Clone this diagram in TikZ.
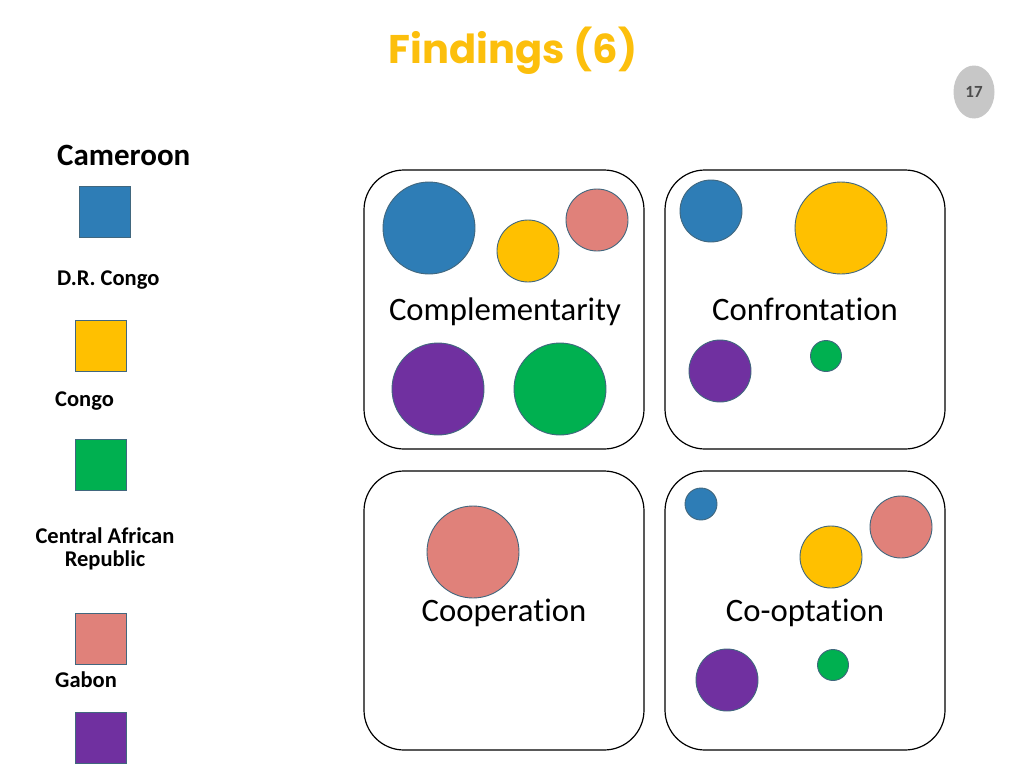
\documentclass[tikz,border=0pt]{standalone}
\usepackage{fontspec}
\usetikzlibrary{shapes.geometric}
\setmainfont{Carlito}[Ligatures={NoCommon,NoContextual},RawFeature={-calt}]
\newfontfamily\titlefont{Poppins}
\definecolor{cblue}{HTML}{2E7DB6}
\definecolor{cyellow}{HTML}{FFC000}
\definecolor{cgreen}{HTML}{00B050}
\definecolor{cpink}{HTML}{E0817A}
\definecolor{cpurple}{HTML}{7030A0}
\definecolor{edgec}{HTML}{41677E}
\definecolor{titlec}{HTML}{FCBF0C}
\begin{document}
\begin{tikzpicture}[x=1pt,y=-1pt,
  panel/.style={draw=black,line width=1.2pt,rounded corners=40pt},
  dot/.style={circle,draw=edgec,line width=0.9pt,inner sep=0pt,minimum size=#1},
  sq/.style={draw=edgec,line width=0.9pt,minimum size=51pt,inner sep=0pt},
  lab/.style={font=\fontsize{32.7}{36}\selectfont},
  leg/.style={font=\bfseries\fontsize{22.5}{26}\selectfont,anchor=west,inner sep=0pt}]
\useasboundingbox (0,0) rectangle (1024,768);
% title and page number
\node[font=\titlefont\bfseries\fontsize{40}{44}\selectfont,text=titlec] (title) at (513,51) {Findings (6)};
\node[ellipse,fill=black!22,minimum width=41pt,minimum height=53pt,inner sep=0pt,font=\bfseries\fontsize{17}{19}\selectfont,text=black!70] (page) at (974,92) {17};
% legend
\node[leg,font=\bfseries\fontsize{31}{34}\selectfont] (lcam) at (57,155) {Cameroon};
\node[sq,fill=cblue] (sqcam) at (104.5,211.5) {};
\node[leg] (ldrc) at (57,280) {D.R. Congo};
\node[sq,fill=cyellow] (sqdrc) at (100.5,345.5) {};
\node[leg] (lcon) at (55,401) {Congo};
\node[sq,fill=cgreen] (sqcon) at (100.5,464.5) {};
\node[font=\bfseries\fontsize{22.5}{22.5}\selectfont,align=center,inner sep=0pt] (lcar) at (105,549) {Central African\\Republic};
\node[sq,fill=cpink] (sqcar) at (100.5,638.5) {};
\node[leg] (lgab) at (55,680) {Gabon};
\node[sq,fill=cpurple] (sqgab) at (100.5,737.5) {};
% panels
\draw[panel] (364,170) rectangle (644,449);
\draw[panel] (665,170) rectangle (945,449);
\draw[panel] (364,471) rectangle (644,750);
\draw[panel] (665,471) rectangle (945,750);
% complementarity
\node[dot=92pt,fill=cblue] (c1) at (429,228) {};
\node[dot=62pt,fill=cyellow] (c2) at (528,251) {};
\node[dot=62pt,fill=cpink] (c3) at (597,220) {};
\node[dot=92pt,fill=cpurple] (c4) at (438,389) {};
\node[dot=92pt,fill=cgreen] (c5) at (560,389) {};
\node[lab,anchor=base] (tcomp) at (505,320) {Complementarity};
% confrontation
\node[dot=62pt,fill=cblue] (f1) at (711,211) {};
\node[dot=92pt,fill=cyellow] (f2) at (841,228) {};
\node[dot=62pt,fill=cpurple] (f3) at (720,371) {};
\node[dot=31pt,fill=cgreen] (f4) at (826,356) {};
\node[lab,anchor=base] (tconf) at (805,320) {Confronta\kern0pt tion};
% cooperation
\node[dot=92pt,fill=cpink] (p1) at (473,552) {};
\node[lab,anchor=base] (tcoop) at (504,621) {Coopera\kern0pt tion};
% co-optation
\node[dot=32pt,fill=cblue] (o1) at (701,504) {};
\node[dot=62pt,fill=cpink] (o2) at (901,527) {};
\node[dot=62pt,fill=cyellow] (o3) at (831,557) {};
\node[dot=62pt,fill=cpurple] (o4) at (727,680) {};
\node[dot=31pt,fill=cgreen] (o5) at (833,665) {};
\node[lab,anchor=base] (tcoopt) at (805,621) {Co-opta\kern0pt tion};
\end{tikzpicture}
\end{document}
